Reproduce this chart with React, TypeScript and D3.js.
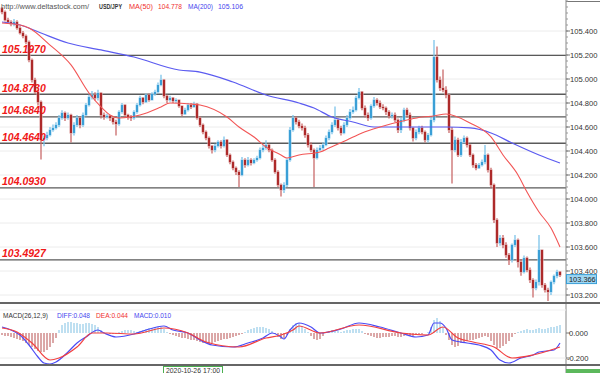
import React from "react";
import * as d3 from "d3";

// ---- data ----
const firstOpen = 105.59;
const closes = [105.558,105.492,105.475,105.458,105.475,105.425,105.383,105.358,105.308,105.158,
104.992,104.892,104.808,104.492,104.508,104.533,104.575,104.592,104.617,104.675,
104.717,104.675,104.700,104.550,104.617,104.675,104.617,104.700,104.783,104.850,
104.867,104.842,104.883,104.700,104.683,104.692,104.675,104.642,104.625,104.725,
104.783,104.700,104.683,104.675,104.725,104.783,104.842,104.808,104.867,104.825,
104.875,104.892,104.950,104.992,104.858,104.825,104.842,104.817,104.825,104.775,
104.708,104.742,104.783,104.767,104.792,104.675,104.617,104.558,104.508,104.442,
104.408,104.442,104.475,104.442,104.492,104.367,104.308,104.258,104.225,104.200,
104.325,104.283,104.325,104.300,104.325,104.342,104.408,104.425,104.450,104.408,
104.325,104.225,104.117,104.075,104.117,104.325,104.575,104.675,104.642,104.608,
104.592,104.533,104.450,104.408,104.342,104.408,104.425,104.450,104.508,104.558,
104.617,104.658,104.592,104.550,104.617,104.675,104.725,104.742,104.842,104.892,
104.758,104.700,104.675,104.775,104.825,104.800,104.767,104.758,104.725,104.692,
104.700,104.658,104.575,104.658,104.742,104.700,104.592,104.508,104.558,104.592,
104.558,104.492,104.533,104.658,105.183,104.992,104.925,104.908,104.867,104.575,
104.408,104.492,104.367,104.475,104.508,104.450,104.367,104.283,104.258,104.283,
104.308,104.367,104.242,104.117,103.825,103.633,103.675,103.617,103.533,103.492,
103.617,103.658,103.475,103.392,103.508,103.408,103.325,103.258,103.308,103.575,
103.283,103.242,103.225,103.308,103.358,103.392,103.366];

const highs = [105.60,105.57,105.51,105.49,105.50,105.49,105.44,105.40,105.37,105.32,
105.17,105.01,104.91,104.82,104.53,104.56,104.60,104.62,104.64,104.70,
104.74,104.73,104.72,104.71,104.64,104.70,104.69,104.72,104.80,104.87,
104.90,104.89,104.91,104.89,104.72,104.71,104.70,104.68,104.66,104.74,
104.80,104.79,104.71,104.70,104.74,104.80,104.86,104.85,104.88,104.88,
104.89,104.91,104.97,105.035,105.00,104.87,104.86,104.85,104.84,104.83,
104.78,104.76,104.80,104.80,104.81,104.80,104.69,104.63,104.57,104.52,
104.45,104.46,104.49,104.49,104.52,104.50,104.38,104.32,104.27,104.24,
104.35,104.34,104.35,104.34,104.34,104.36,104.43,104.45,104.49,104.46,
104.42,104.34,104.24,104.13,104.14,104.34,104.60,104.70,104.69,104.66,
104.63,104.61,104.55,104.47,104.42,104.43,104.45,104.47,104.53,104.58,
104.64,104.77,104.67,104.61,104.64,104.70,104.75,104.77,104.86,104.925,
104.90,104.78,104.72,104.79,104.85,104.84,104.82,104.79,104.77,104.74,
104.72,104.72,104.67,104.68,104.76,104.76,104.72,104.60,104.58,104.61,
104.61,104.57,104.55,104.68,105.325,105.27,105.02,105.08,104.94,104.88,
104.60,104.52,104.51,104.50,104.53,104.52,104.46,104.38,104.30,104.30,
104.33,104.45,104.38,104.26,104.13,103.84,103.70,103.70,103.64,103.55,
103.63,103.70,103.67,103.50,103.53,103.52,103.43,103.34,103.33,103.70,
103.58,103.30,103.26,103.32,103.37,103.41,103.40];

const lows = [105.54,105.48,105.46,105.44,105.44,105.41,105.37,105.34,105.29,105.14,
104.97,104.87,104.78,104.33,104.44,104.49,104.52,104.56,104.58,104.60,
104.66,104.65,104.66,104.47,104.53,104.60,104.59,104.60,104.69,104.77,
104.83,104.82,104.82,104.67,104.66,104.67,104.65,104.62,104.53,104.61,
104.71,104.68,104.66,104.65,104.66,104.71,104.77,104.79,104.80,104.81,
104.82,104.86,104.88,104.94,104.84,104.80,104.81,104.80,104.80,104.76,
104.69,104.70,104.73,104.75,104.76,104.66,104.60,104.54,104.49,104.42,
104.38,104.39,104.43,104.42,104.43,104.35,104.29,104.24,104.20,104.10,
104.19,104.26,104.27,104.28,104.29,104.31,104.33,104.39,104.41,104.39,
104.31,104.21,104.10,104.02,104.05,104.10,104.31,104.56,104.62,104.59,
104.57,104.51,104.43,104.39,104.10,104.33,104.40,104.41,104.44,104.49,
104.54,104.60,104.57,104.53,104.54,104.60,104.66,104.71,104.73,104.83,
104.74,104.68,104.65,104.66,104.76,104.78,104.75,104.74,104.70,104.67,
104.67,104.64,104.55,104.55,104.64,104.68,104.57,104.48,104.49,104.54,
104.54,104.47,104.47,104.52,104.64,104.97,104.90,104.89,104.84,104.55,
104.13,104.39,104.35,104.35,104.46,104.43,104.35,104.26,104.24,104.25,
104.27,104.29,104.22,104.09,103.80,103.60,103.61,103.59,103.51,103.45,
103.47,103.60,103.43,103.36,103.38,103.39,103.30,103.18,103.24,103.28,
103.26,103.22,103.15,103.20,103.29,103.34,103.35];

// moving averages sampled at candle indices
const ma50Idx = [0,6,9,16,23,29,33,36,39,46,53,56,63,66,75,79,84,88,93,95,99,106,109,115,120,126,135,140,144,148,156,163,167,172,175,179,183,186];
const ma50Val = [105.467,105.45,105.425,105.283,105.117,104.883,104.767,104.70,104.675,104.70,104.767,104.80,104.792,104.783,104.683,104.60,104.517,104.433,104.367,104.342,104.367,104.392,104.425,104.492,104.55,104.60,104.658,104.683,104.692,104.708,104.633,104.517,104.367,104.20,104.058,103.892,103.758,103.60];
const ma200Idx = [0,6,13,22,33,44,59,66,77,88,99,104,110,117,124,129,140,148,156,163,170,179,186];
const ma200Val = [105.475,105.45,105.383,105.30,105.242,105.183,105.075,105.058,104.975,104.867,104.80,104.758,104.683,104.642,104.60,104.60,104.60,104.60,104.592,104.55,104.467,104.367,104.30];

// MACD
const histVals = [-0.016,-0.024,-0.024,-0.032,-0.040,-0.048,-0.056,-0.064,-0.080,-0.096,
-0.112,-0.128,-0.144,-0.152,-0.152,-0.136,-0.112,-0.080,-0.040,0.024,
0.064,0.080,0.088,0.088,0.080,0.080,0.072,0.072,0.080,0.080,0.072,0.064,0.048,
0.024,0.008,0,-0.008,-0.008,-0.008,0.008,
0.016,0.024,0.024,0.024,0.016,0.008,
0.016,0.024,0.032,0.040,0.040,0.048,0.048,0.048,0.032,
0.008,-0.008,-0.016,-0.024,
-0.032,-0.040,-0.040,-0.048,-0.056,-0.056,-0.064,-0.072,
-0.080,-0.080,-0.088,-0.080,-0.072,-0.064,-0.056,
-0.048,-0.048,-0.040,-0.032,-0.024,
-0.016,-0.008,0.008,
0.024,0.032,0.040,0.048,0.048,0.048,0.040,0.032,0.016,
-0.008,-0.032,-0.048,-0.040,-0.016,
0.032,0.064,0.080,0.080,
0.056,0.032,0.008,
-0.024,-0.048,-0.056,-0.048,-0.024,
0.008,0.016,0.024,0.024,0.016,0.008,0.016,0.024,0.024,0.032,0.032,
0.032,0.016,-0.008,
-0.016,-0.024,-0.032,-0.040,-0.040,-0.032,-0.032,-0.032,-0.024,-0.024,-0.032,
-0.032,-0.024,-0.016,-0.024,-0.024,
-0.016,-0.008,-0.008,0,0.008,
0.048,0.104,0.120,0.096,
0.048,-0.016,-0.056,
-0.096,-0.112,-0.104,-0.080,-0.072,-0.064,
-0.056,-0.056,-0.048,-0.040,-0.032,-0.024,-0.032,
-0.064,-0.096,-0.120,-0.120,-0.104,-0.088,-0.064,
-0.032,-0.008,0.008,
0.016,0.024,0.032,0.024,0.024,0.032,0.040,0.032,0.032,0.040,0.048,0.048,0.056,0.064];
const diffIdx = [0,3,6,9,12,14,16,18,22,25,28,32,34,38,44,48,54,57,62,66,70,77,82,87,90,93,94,96,99,103,106,113,119,126,133,138,142,144,146,148,150,155,159,163,166,169,173,177,179,184,186];
const diffVal = [0.048,0.024,-0.016,-0.096,-0.192,-0.24,-0.248,-0.232,-0.152,-0.08,-0.032,0.024,0.0,-0.032,-0.008,0.024,0.056,0.024,0.0,-0.056,-0.096,-0.112,-0.08,-0.04,0.0,-0.032,-0.048,0.024,0.08,0.048,0.0,0.032,0.08,0.048,0.0,-0.032,-0.016,0.08,0.08,0.04,-0.056,-0.08,-0.096,-0.136,-0.216,-0.24,-0.2,-0.176,-0.152,-0.136,-0.08];
const deaIdx = [0,5,10,16,19,25,30,35,44,54,62,68,79,88,93,97,99,106,119,133,142,147,152,157,164,170,177,186];
const deaVal = [0.04,0.008,-0.08,-0.216,-0.2,-0.112,0.0,0.0,-0.008,0.04,0.0,-0.072,-0.112,-0.04,-0.016,0.024,0.056,0.0,0.064,0.0,-0.016,0.048,-0.04,-0.072,-0.112,-0.2,-0.176,-0.112];

const levels = [105.197, 104.873, 104.684, 104.464, 104.093, 103.4927];
const levelLabels = ["105.1970", "104.8730", "104.6840", "104.4640", "104.0930", "103.4927"];
const priceTicks = [105.4, 105.2, 105.0, 104.8, 104.6, 104.4, 104.2, 104.0, 103.8, 103.6, 103.4, 103.2];
const macdTicks = [0, -0.2];
const lastPrice = 103.366;
const dateLabel = "2020-10-26 17:00";
const header = { site: "http://www.deltastock.com/", sym: "USD/JPY", ma50: "MA(50)", ma50v: "104.778", ma200: "MA(200)", ma200v: "105.106" };
const macdHeader = { name: "MACD(26,12,9)", diff: "DIFF:0.048", dea: "DEA:0.044", macd: "MACD:0.010" };

const W = 600, H = 373;
const AX = 566;
const FONT = "'Liberation Sans', Arial, sans-serif";
const UP = "#3a9fd6", DOWN = "#ad2a2a";

export default function App() {
  const N = closes.length;
  const x = d3.scaleLinear().domain([0, N - 1]).range([2, 560]);
  const y = d3.scaleLinear().domain([103.2, 105.4]).range([295, 31]);
  const my = d3.scaleLinear().domain([-0.2, 0]).range([358, 333]);
  const opens = closes.map((c, i) => (i === 0 ? firstOpen : closes[i - 1]));

  const mkLine = (idx: number[], val: number[], ys: (v: number) => number) =>
    d3.line<number>().x((_, i) => x(idx[i])).y((v) => ys(v)).curve(d3.curveMonotoneX)(val) || "";

  return (
    <svg width={W} height={H} style={{ position: "absolute", left: 0, top: 0, background: "#fff" }} fontFamily={FONT}>
      <rect x={0} y={0} width={W} height={H} fill="#fff" />
      {/* grid */}
      {priceTicks.map((t) => (
        <line key={"g" + t} x1={0} x2={AX} y1={y(t)} y2={y(t)} stroke="#ececec" strokeWidth={1} />
      ))}
      {/* level lines */}
      {levels.map((l) => (
        <line key={"l" + l} x1={0} x2={AX} y1={y(l)} y2={y(l)} stroke="#5a5a5a" strokeWidth={1.4} />
      ))}
      {/* candles */}
      {closes.map((c, i) => {
        const o = opens[i];
        const up = c >= o;
        const col = up ? UP : DOWN;
        const top = y(Math.max(o, c));
        const bot = y(Math.min(o, c));
        return (
          <g key={"c" + i}>
            <line x1={x(i)} x2={x(i)} y1={y(highs[i])} y2={y(lows[i])} stroke={up ? "#7cc3ea" : "#c96a6a"} strokeWidth={1.3} />
            <rect x={x(i) - 2} y={top - 0.5} width={4} height={Math.max(1, bot - top) + 1} fill={up ? "#a9d8f2" : "#dca0a0"} opacity={0.55} />
            <rect x={x(i) - 1} y={top} width={2} height={Math.max(1, bot - top)} fill={col} />
          </g>
        );
      })}
      {/* MAs */}
      <path d={mkLine(ma200Idx, ma200Val, y)} fill="none" stroke="#5b5bf0" strokeWidth={1.2} />
      <path d={mkLine(ma50Idx, ma50Val, y)} fill="none" stroke="#f25555" strokeWidth={1.1} />
      {/* level labels */}
      {levels.map((l, i) => (
        <text key={"t" + l} x={2} y={y(l) - 2.5} fill="#f01818" fontSize={10.5} fontWeight="bold" fontStyle="italic">{levelLabels[i]}</text>
      ))}
      {/* header */}
      <text x={1} y={9} fontSize={7.3} fill="#555" textLength={88} lengthAdjust="spacingAndGlyphs">{header.site}</text>
      <text x={99} y={9} fontSize={7.5} fill="#333" fontWeight="bold" textLength={23} lengthAdjust="spacingAndGlyphs">{header.sym}</text>
      <text x={129} y={9} fontSize={7.5} fill="#f03030" textLength={24} lengthAdjust="spacingAndGlyphs">{header.ma50}</text>
      <text x={158} y={9} fontSize={7.5} fill="#f03030" textLength={24} lengthAdjust="spacingAndGlyphs">{header.ma50v}</text>
      <text x={188} y={9} fontSize={7.5} fill="#4646ee" textLength={25} lengthAdjust="spacingAndGlyphs">{header.ma200}</text>
      <text x={218} y={9} fontSize={7.5} fill="#4646ee" textLength={25} lengthAdjust="spacingAndGlyphs">{header.ma200v}</text>

      {/* right axis */}
      <rect x={AX} y={0} width={W - AX} height={H} fill="#fff" />
      <line x1={AX} x2={W} y1={1.5} y2={1.5} stroke="#777" strokeWidth={1} />
      <line x1={AX} x2={AX} y1={0} y2={H} stroke="#888" strokeWidth={1} />
      {d3.range(103.2, 105.66, 0.05).map((t) => (
        <line key={"mt" + t} x1={AX} x2={AX + 2} y1={y(t)} y2={y(t)} stroke="#999" />
      ))}
      {priceTicks.map((t) => (
        <g key={"pt" + t}>
          <line x1={AX} x2={AX + 4} y1={y(t)} y2={y(t)} stroke="#777" />
          <text x={570} y={y(t) + 2.6} fontSize={7.6} fill="#333">{t.toFixed(3)}</text>
        </g>
      ))}
      <rect x={AX + 0.5} y={y(lastPrice) - 0.5} width={30} height={9} fill="#9fd6f2" stroke="#3a9fd6" strokeWidth={1} />
      <text x={569} y={y(lastPrice) + 6.6} fontSize={7.4} fill="#222">{lastPrice.toFixed(3)}</text>

      {/* separator */}
      <line x1={0} x2={W} y1={303} y2={303} stroke="#666" strokeWidth={2} />
      <line x1={0} x2={AX} y1={310} y2={310} stroke="#f0f0f0" strokeWidth={1} />

      {/* MACD panel */}
      <line x1={0} x2={AX} y1={my(-0.2)} y2={my(-0.2)} stroke="#ececec" />
      {histVals.map((v, i) => (
        <line key={"h" + i} x1={x(i)} x2={x(i)} y1={my(0)} y2={my(v)} stroke={v >= 0 ? "#7ec0e3" : "#b85050"} strokeWidth={1} />
      ))}
      <path d={mkLine(diffIdx, diffVal, my)} fill="none" stroke="#4b4bf5" strokeWidth={1.2} />
      <path d={mkLine(deaIdx, deaVal, my)} fill="none" stroke="#f24040" strokeWidth={1.2} />
      <text x={3} y={318} fontSize={7.5} fill="#333" textLength={45} lengthAdjust="spacingAndGlyphs">{macdHeader.name}</text>
      <text x={57} y={318} fontSize={7.5} fill="#4646ee" textLength={33} lengthAdjust="spacingAndGlyphs">{macdHeader.diff}</text>
      <text x={96} y={318} fontSize={7.5} fill="#f03030" textLength={32} lengthAdjust="spacingAndGlyphs">{macdHeader.dea}</text>
      <text x={134} y={318} fontSize={7.5} fill="#4646ee" textLength={37} lengthAdjust="spacingAndGlyphs">{macdHeader.macd}</text>
      {macdTicks.map((t) => (
        <g key={"mk" + t}>
          <line x1={AX} x2={AX + 4} y1={my(t)} y2={my(t)} stroke="#777" />
          <text x={t < 0 ? 567 : 569} y={my(t) + 2.8} fontSize={7.6} fill="#333">{t.toFixed(3)}</text>
        </g>
      ))}
      <line x1={0} x2={W} y1={365} y2={365} stroke="#666" strokeWidth={2} />
      {/* time axis */}
      <rect x={163.5} y={366.5} width={59} height={10} fill="#fff" stroke="#4caf50" strokeWidth={1} />
      <text x={166} y={372.5} fontSize={7.3} fill="#333" textLength={54} lengthAdjust="spacingAndGlyphs">{dateLabel}</text>
      <rect x={AX} y={369} width={W - AX} height={4} fill="#5cb85c" />
    </svg>
  );
}
